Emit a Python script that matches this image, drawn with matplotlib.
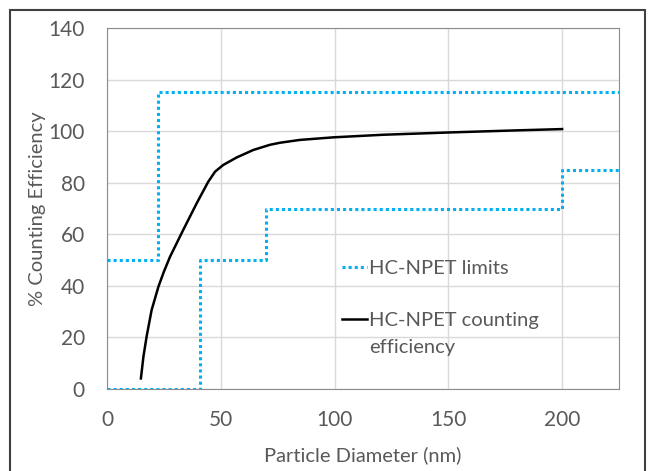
import matplotlib.pyplot as plt
from matplotlib.patches import Rectangle

# limites HC-NPET (funcao degrau)
lim_sup_x = [0, 22.5, 22.5, 225]
lim_sup_y = [50, 50, 115, 115]
lim_inf_x = [0, 41, 41, 70, 70, 200, 200, 225]
lim_inf_y = [0, 0, 50, 50, 70, 70, 85, 85]

# eficiencia de contagem
diametro = [14.9, 16, 17.4, 19.6, 22.6, 25, 27.7, 33.5, 39.4, 44.5, 47.5, 51.1, 57, 64.3, 71.6, 76,
            84.8, 99.5, 121.4, 150.7, 180, 200]
eficiencia = [4.1, 12.5, 20.3, 30.6, 39.7, 45.5, 51.3, 61.7, 72, 80.4, 84.3, 86.9, 89.8, 92.7, 94.7, 95.5,
              96.6, 97.6, 98.6, 99.5, 100.3, 100.8]

plt.rcParams['font.family'] = ['Lato', 'DejaVu Sans']
cinza = '#595959'
azul = '#00b0f0'

fig = plt.figure(figsize=(6.5, 4.71), dpi=100)
ax = fig.add_axes([107/650, 1 - 389/471, 512/650, 361/471])

ax.plot(lim_sup_x, lim_sup_y, color=azul, linewidth=2.2, dashes=(1, 1), label='HC-NPET limits', zorder=3)
ax.plot(lim_inf_x, lim_inf_y, color=azul, linewidth=2.2, dashes=(1, 1), zorder=3)
ax.plot(diametro, eficiencia, color='black', linewidth=1.8, label='HC-NPET counting', zorder=4)

ax.set_xlim(0, 225)
ax.set_ylim(0, 140)
ax.set_xticks([0, 50, 100, 150, 200])
ax.set_yticks(range(0, 141, 20))
ax.grid(True, color='#d9d9d9', linewidth=1)
ax.set_axisbelow(True)
for s in ax.spines.values():
    s.set_color('#8c8c8c')
ax.tick_params(length=0, labelsize=15, labelcolor=cinza)
ax.tick_params(axis='y', pad=16)
ax.tick_params(axis='x', pad=15)

ax.set_xlabel('Particle Diameter (nm)', fontsize=14.5, color=cinza, labelpad=12)
ax.set_ylabel('% Counting Efficiency', fontsize=14.5, color=cinza, labelpad=2)

leg = ax.legend(loc='upper left', bbox_to_anchor=(0.424, 0.4075), frameon=False,
                fontsize=14.5, handlelength=1.25, handletextpad=0.1, labelspacing=1.75)
for t in leg.get_texts():
    t.set_color(cinza)

# segunda linha do rotulo (como no Excel, a linha da legenda fica na primeira linha)
fig.canvas.draw()
bb = leg.get_texts()[1].get_window_extent()
fig.text(bb.x0 / 650, (bb.y0 - 27) / 471, 'efficiency', va='bottom', ha='left',
         fontsize=14.5, color=cinza)

# moldura externa
fig.patches.append(Rectangle((10/650, -0.05), 635/650, 1.05 - 10/471, transform=fig.transFigure,
                             fill=False, edgecolor='#404040', linewidth=1.5))

fig.savefig('out.png', dpi=100)
